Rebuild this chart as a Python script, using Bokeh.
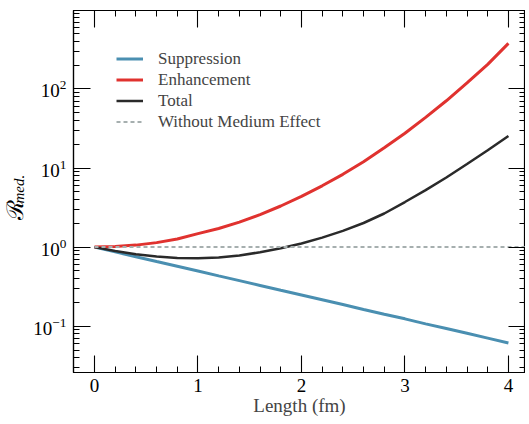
from bokeh.plotting import figure
from bokeh.models import (Range1d, LogAxis, LinearAxis, SingleIntervalTicker,
                          LogTicker, Title, CustomJSTickFormatter)
from bokeh.embed import file_html
from bokeh.resources import INLINE

# ---- data ----
length_fm = [0.0, 0.2, 0.4, 0.6, 0.8, 1.0, 1.2, 1.4, 1.6, 1.8, 2.0,
             2.2, 2.4, 2.6, 2.8, 3.0, 3.2, 3.4, 3.6, 3.8, 4.0]
suppression = [1.0, 0.870, 0.757, 0.658, 0.573, 0.498, 0.433, 0.377, 0.328,
               0.285, 0.248, 0.216, 0.188, 0.163, 0.142, 0.124, 0.107,
               0.0935, 0.0813, 0.0707, 0.0615]
enhancement = [1.0, 1.015, 1.06, 1.14, 1.266, 1.48, 1.72, 2.07, 2.57, 3.31,
               4.37, 5.96, 8.32, 12.0, 18.0, 27.5, 43.6, 70.8, 119.0, 204.0,
               376.0]
total = [1.0, 0.891, 0.813, 0.759, 0.731, 0.724, 0.741, 0.785, 0.861, 0.966,
         1.109, 1.318, 1.603, 2.018, 2.661, 3.715, 5.248, 7.586, 11.22,
         16.79, 25.41]
baseline_x = [0.0, 4.2]
baseline_y = [1.0, 1.0]

series_names = ["Suppression", "Enhancement", "Total", "Without Medium Effect"]

SERIF = "Liberation Serif"

p = figure(width=525, height=420, output_backend="svg", toolbar_location=None,
           x_range=Range1d(-0.203, 4.165), y_range=Range1d(0.026, 980),
           y_axis_type="log",
           min_border_left=73, min_border_right=0, min_border_top=10,
           min_border_bottom=48)
p.grid.visible = False
p.outline_line_color = "black"
p.outline_line_width = 1.2
p.background_fill_color = "white"
p.border_fill_color = "white"

blank = CustomJSTickFormatter(code="return ''")


def style_axis(ax, labels=True):
    ax.major_tick_in = 17
    ax.major_tick_out = 0
    ax.minor_tick_in = 6
    ax.minor_tick_out = 0
    ax.axis_line_color = "black"
    ax.axis_line_width = 1.2
    ax.major_tick_line_color = "black"
    ax.minor_tick_line_color = "black"
    ax.major_tick_line_width = 1.1
    ax.minor_tick_line_width = 1.0
    if labels:
        ax.major_label_text_font = SERIF
        ax.major_label_text_font_size = "19px"
        ax.major_label_text_color = "black"
    else:
        ax.formatter = blank
        ax.major_label_text_font_size = "1px"
        ax.major_label_standoff = 0


xa = p.xaxis[0]
xa.ticker = SingleIntervalTicker(interval=1, num_minor_ticks=5)
style_axis(xa)
xa.major_label_standoff = 6
xa.axis_label = "Length (fm)"
xa.axis_label_text_font = SERIF
xa.axis_label_text_font_size = "19px"
xa.axis_label_text_font_style = "normal"
xa.axis_label_standoff = 0

ya = p.yaxis[0]
ya.ticker = LogTicker(num_minor_ticks=10)
style_axis(ya)
ya.major_label_standoff = 7

top = LinearAxis(ticker=SingleIntervalTicker(interval=1, num_minor_ticks=5))
style_axis(top, labels=False)
p.add_layout(top, "above")
right = LogAxis(ticker=LogTicker(num_minor_ticks=10))
style_axis(right, labels=False)
p.add_layout(right, "right")

# y axis label: script R with subscript "med." (two vertical titles)
p.add_layout(Title(text="med.", align="left", offset=169,
                   vertical_align="bottom", standoff=8,
                   text_font=SERIF, text_font_style="italic",
                   text_font_size="15px", text_color="black"), "left")
p.add_layout(Title(text="ℛ", align="left", offset=153,
                   vertical_align="bottom", standoff=-46,
                   text_font="DejaVu Serif", text_font_style="normal",
                   text_font_size="23px", text_color="black"), "left")

blue = "#4a8fb1"
red = "#e0322f"
dark = "#2a2a2a"
gray = "#a6afaf"

p.line(length_fm, suppression, line_width=3, color=blue, legend_label=series_names[0])
p.line(length_fm, enhancement, line_width=3, color=red, legend_label=series_names[1])
p.line(length_fm, total, line_width=2.5, color=dark, legend_label=series_names[2])
p.line(baseline_x, baseline_y, line_width=2, color=gray, line_dash="4 3",
       legend_label=series_names[3])

lg = p.legend[0]
lg.location = (43, 240)
lg.margin = 0
lg.padding = 0
lg.spacing = 0
lg.border_line_alpha = 0
lg.background_fill_alpha = 0
lg.label_text_font = SERIF
lg.label_text_font_size = "17px"
lg.label_height = 21
lg.glyph_height = 21
lg.glyph_width = 27
lg.label_standoff = 15

open("out.html", "w").write(file_html(p, INLINE))
